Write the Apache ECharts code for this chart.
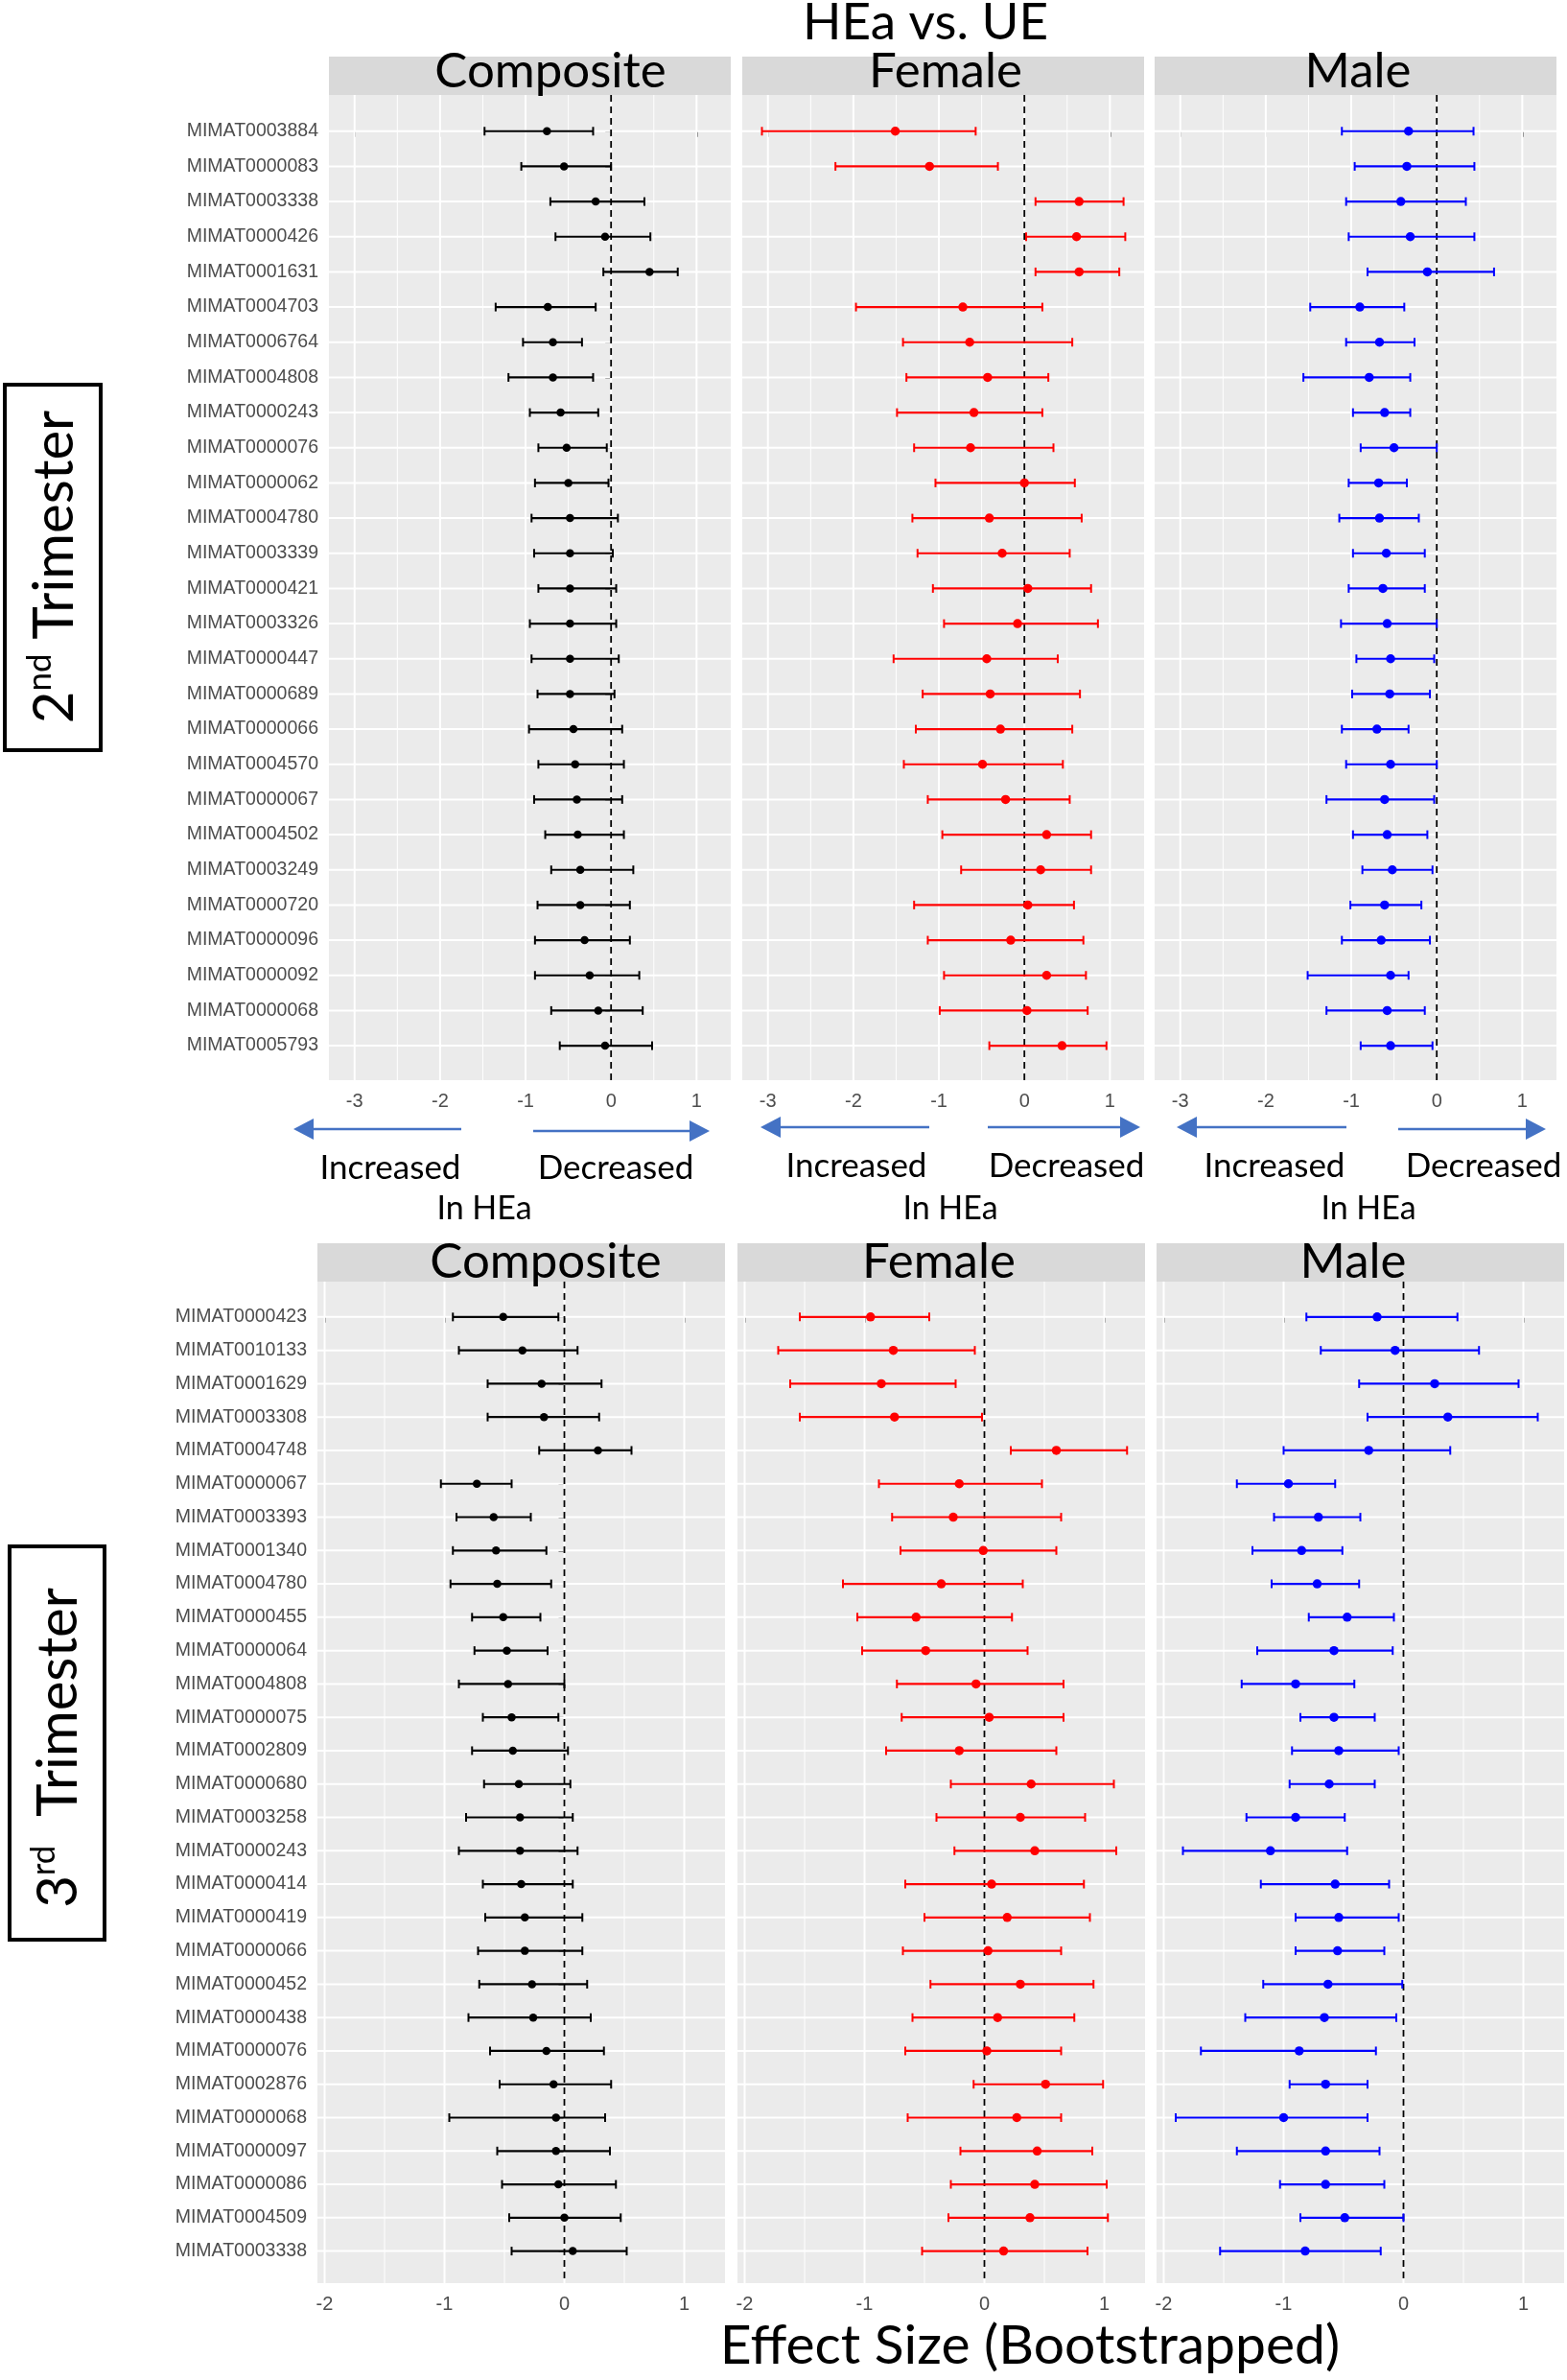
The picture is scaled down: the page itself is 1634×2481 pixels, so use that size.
<!DOCTYPE html>
<html>
<head>
<meta charset="utf-8">
<script src="https://cdn.jsdelivr.net/npm/echarts@6/dist/echarts.min.js"></script>
<style>
  html, body { margin: 0; padding: 0; background: #fff; }
  #main { width: 1634px; height: 2481px; }
</style>
</head>
<body>
<div id="main"></div>
<script>
// ---- 2nd trimester ----
var genes2 = ['MIMAT0003884','MIMAT0000083','MIMAT0003338','MIMAT0000426','MIMAT0001631','MIMAT0004703',
  'MIMAT0006764','MIMAT0004808','MIMAT0000243','MIMAT0000076','MIMAT0000062','MIMAT0004780','MIMAT0003339',
  'MIMAT0000421','MIMAT0003326','MIMAT0000447','MIMAT0000689','MIMAT0000066','MIMAT0004570','MIMAT0000067',
  'MIMAT0004502','MIMAT0003249','MIMAT0000720','MIMAT0000096','MIMAT0000092','MIMAT0000068','MIMAT0005793'];

var comp2Est = [-0.75,-0.55,-0.18,-0.07,0.45,-0.74,-0.68,-0.68,-0.59,-0.52,-0.50,-0.48,-0.48,-0.48,-0.48,-0.48,-0.48,-0.44,-0.42,-0.40,-0.39,-0.36,-0.36,-0.31,-0.25,-0.15,-0.07];
var comp2Lo  = [-1.48,-1.05,-0.71,-0.65,-0.09,-1.35,-1.03,-1.20,-0.95,-0.85,-0.89,-0.93,-0.90,-0.85,-0.95,-0.93,-0.86,-0.96,-0.85,-0.90,-0.77,-0.70,-0.86,-0.89,-0.89,-0.70,-0.60];
var comp2Hi  = [-0.21,0.00,0.39,0.46,0.78,-0.18,-0.34,-0.21,-0.15,-0.05,-0.03,0.08,0.02,0.06,0.06,0.09,0.04,0.13,0.15,0.13,0.15,0.26,0.22,0.22,0.33,0.37,0.48];

var fem2Est = [-1.51,-1.11,0.64,0.61,0.64,-0.72,-0.64,-0.43,-0.59,-0.63,0.00,-0.41,-0.26,0.04,-0.08,-0.44,-0.40,-0.28,-0.49,-0.22,0.26,0.19,0.04,-0.16,0.26,0.03,0.44];
var fem2Lo  = [-3.07,-2.21,0.13,0.02,0.13,-1.97,-1.42,-1.38,-1.49,-1.29,-1.04,-1.31,-1.25,-1.07,-0.94,-1.53,-1.19,-1.27,-1.41,-1.13,-0.96,-0.74,-1.29,-1.13,-0.94,-0.99,-0.41];
var fem2Hi  = [-0.57,-0.31,1.16,1.18,1.11,0.21,0.56,0.28,0.21,0.34,0.59,0.67,0.53,0.78,0.86,0.39,0.65,0.56,0.45,0.53,0.78,0.78,0.58,0.69,0.72,0.74,0.96];

var male2Est = [-0.33,-0.35,-0.42,-0.31,-0.11,-0.90,-0.67,-0.79,-0.61,-0.50,-0.68,-0.67,-0.59,-0.63,-0.58,-0.54,-0.55,-0.70,-0.54,-0.61,-0.58,-0.52,-0.61,-0.65,-0.54,-0.58,-0.54];
var male2Lo  = [-1.11,-0.96,-1.06,-1.03,-0.81,-1.48,-1.06,-1.56,-0.98,-0.89,-1.03,-1.14,-0.98,-1.03,-1.12,-0.94,-0.99,-1.11,-1.06,-1.29,-0.98,-0.87,-1.01,-1.11,-1.51,-1.29,-0.89];
var male2Hi  = [0.43,0.44,0.34,0.44,0.67,-0.38,-0.26,-0.31,-0.31,0.00,-0.35,-0.21,-0.14,-0.14,0.00,-0.03,-0.08,-0.33,0.00,-0.03,-0.11,-0.05,-0.18,-0.08,-0.33,-0.14,-0.05];

// ---- 3rd trimester ----
var genes3 = ['MIMAT0000423','MIMAT0010133','MIMAT0001629','MIMAT0003308','MIMAT0004748','MIMAT0000067',
  'MIMAT0003393','MIMAT0001340','MIMAT0004780','MIMAT0000455','MIMAT0000064','MIMAT0004808','MIMAT0000075',
  'MIMAT0002809','MIMAT0000680','MIMAT0003258','MIMAT0000243','MIMAT0000414','MIMAT0000419','MIMAT0000066',
  'MIMAT0000452','MIMAT0000438','MIMAT0000076','MIMAT0002876','MIMAT0000068','MIMAT0000097','MIMAT0000086',
  'MIMAT0004509','MIMAT0003338'];

var comp3Est = [-0.51,-0.35,-0.19,-0.17,0.28,-0.73,-0.59,-0.57,-0.56,-0.51,-0.48,-0.47,-0.44,-0.43,-0.38,-0.37,-0.37,-0.36,-0.33,-0.33,-0.27,-0.26,-0.15,-0.09,-0.07,-0.07,-0.05,0.00,0.07];
var comp3Lo  = [-0.93,-0.88,-0.64,-0.64,-0.21,-1.03,-0.90,-0.93,-0.95,-0.77,-0.75,-0.88,-0.68,-0.77,-0.67,-0.82,-0.88,-0.68,-0.66,-0.72,-0.71,-0.80,-0.62,-0.54,-0.96,-0.56,-0.52,-0.46,-0.44];
var comp3Hi  = [-0.05,0.11,0.31,0.29,0.56,-0.44,-0.28,-0.15,-0.11,-0.20,-0.14,0.00,-0.05,0.03,0.05,0.07,0.11,0.07,0.15,0.15,0.19,0.22,0.33,0.39,0.34,0.38,0.43,0.47,0.52];

var fem3Est = [-0.95,-0.76,-0.86,-0.75,0.60,-0.21,-0.26,-0.01,-0.36,-0.57,-0.49,-0.07,0.04,-0.21,0.39,0.30,0.42,0.06,0.19,0.03,0.30,0.11,0.02,0.51,0.27,0.44,0.42,0.38,0.16];
var fem3Lo  = [-1.54,-1.72,-1.62,-1.54,0.22,-0.88,-0.77,-0.70,-1.18,-1.06,-1.02,-0.73,-0.69,-0.82,-0.28,-0.40,-0.25,-0.66,-0.50,-0.68,-0.45,-0.60,-0.66,-0.09,-0.64,-0.20,-0.28,-0.30,-0.52];
var fem3Hi  = [-0.46,-0.08,-0.24,-0.02,1.19,0.48,0.64,0.60,0.32,0.23,0.36,0.66,0.66,0.60,1.08,0.84,1.10,0.83,0.88,0.64,0.91,0.75,0.64,0.99,0.64,0.90,1.02,1.03,0.86];

var male3Est = [-0.22,-0.07,0.26,0.37,-0.29,-0.96,-0.71,-0.85,-0.72,-0.47,-0.58,-0.90,-0.58,-0.54,-0.62,-0.90,-1.11,-0.57,-0.54,-0.55,-0.63,-0.66,-0.87,-0.65,-1.00,-0.65,-0.65,-0.49,-0.82];
var male3Lo  = [-0.81,-0.69,-0.37,-0.30,-1.00,-1.39,-1.08,-1.26,-1.10,-0.79,-1.22,-1.35,-0.86,-0.93,-0.95,-1.31,-1.84,-1.19,-0.90,-0.90,-1.17,-1.32,-1.69,-0.95,-1.90,-1.39,-1.03,-0.86,-1.53];
var male3Hi  = [0.45,0.63,0.96,1.12,0.39,-0.57,-0.36,-0.51,-0.37,-0.08,-0.09,-0.41,-0.24,-0.04,-0.24,-0.49,-0.47,-0.12,-0.04,-0.16,-0.01,-0.06,-0.23,-0.30,-0.30,-0.20,-0.16,0.00,-0.19];

// axis breaks
var ticks2 = [-3, -2, -1, 0, 1];
var minor2 = [-2.5, -1.5, -0.5, 0.5];
var ticks3 = [-2, -1, 0, 1];
var minor3 = [-1.5, -0.5, 0.5];
var panelNames = ['Composite', 'Female', 'Male'];
var refLine = 0;

var colors = ['#000000', '#FF0000', '#0000FF'];
var labelFont = 'Liberation Sans, Arial, sans-serif';
var bigFont = 'Lato, Open Sans, sans-serif';

var blocks = [
  { genes: genes2, est: [comp2Est, fem2Est, male2Est], lo: [comp2Lo, fem2Lo, male2Lo], hi: [comp2Hi, fem2Hi, male2Hi],
    ticks: ticks2, minor: minor2, lefts: [343, 774, 1204], width: 419, top: 99, height: 1027,
    xmin: -3.3, xmax: 1.4, padTop: 1.03, padBottom: 0.98, stripTop: 59, labelX: [574, 986, 1416], labelY: 75 },
  { genes: genes3, est: [comp3Est, fem3Est, male3Est], lo: [comp3Lo, fem3Lo, male3Lo], hi: [comp3Hi, fem3Hi, male3Hi],
    ticks: ticks3, minor: minor3, lefts: [331, 769, 1206], width: 425, top: 1336, height: 1044,
    xmin: -2.06, xmax: 1.34, padTop: 1.06, padBottom: 0.96, stripTop: 1296, labelX: [569, 979, 1411], labelY: 1316 }
];

var grids = [], xAxes = [], yAxes = [], series = [], elements = [];

function vLine(params, api) {
  var cs = params.coordSys;
  var p = api.coord([api.value(0), 0]);
  var w = api.value(1);
  return { type: 'line', shape: { x1: p[0], y1: cs.y, x2: p[0], y2: cs.y + cs.height },
           style: { stroke: '#FFFFFF', lineWidth: w } };
}
function hLine(params, api) {
  var cs = params.coordSys;
  var p = api.coord([0, api.value(1)]);
  return { type: 'line', shape: { x1: cs.x, y1: p[1], x2: cs.x + cs.width, y2: p[1] },
           style: { stroke: '#FFFFFF', lineWidth: 2 } };
}
function zeroLine(params, api) {
  var cs = params.coordSys;
  var p = api.coord([api.value(0), 0]);
  return { type: 'line', shape: { x1: p[0], y1: cs.y, x2: p[0], y2: cs.y + cs.height },
           style: { stroke: '#000000', lineWidth: 1.8, lineDash: [7, 5] } };
}
function barRenderer(color) {
  return function (params, api) {
    var y = api.value(2);
    var a = api.coord([api.value(0), y]);
    var b = api.coord([api.value(1), y]);
    var h = 4.5;
    return { type: 'group', children: [
      { type: 'line', shape: { x1: a[0], y1: a[1], x2: b[0], y2: b[1] }, style: { stroke: color, lineWidth: 2.2 } },
      { type: 'line', shape: { x1: a[0], y1: a[1] - h, x2: a[0], y2: a[1] + h }, style: { stroke: color, lineWidth: 2 } },
      { type: 'line', shape: { x1: b[0], y1: b[1] - h, x2: b[0], y2: b[1] + h }, style: { stroke: color, lineWidth: 2 } }
    ] };
  };
}

blocks.forEach(function (blk) {
  var n = blk.genes.length;
  var rows = blk.genes.map(function (g, i) { return i; });
  for (var p = 0; p < 3; p++) {
    var idx = grids.length;
    grids.push({ left: blk.lefts[p], top: blk.top, width: blk.width, height: blk.height,
      show: true, backgroundColor: '#EBEBEB', borderWidth: 0, containLabel: false, outerBoundsMode: 'none' });
    xAxes.push({ type: 'value', gridIndex: idx, min: blk.xmin, max: blk.xmax,
      axisLine: { show: false }, splitLine: { show: false },
      axisTick: { show: true, length: 6, customValues: blk.ticks, lineStyle: { color: '#333333', width: 1.5 } },
      axisLabel: { show: true, customValues: blk.ticks, margin: 12, color: '#4D4D4D', fontSize: 20, fontFamily: labelFont,
        formatter: function (v) { return Math.abs(v - Math.round(v)) < 1e-6 ? String(Math.round(v)) : ''; } } });
    var genes = blk.genes;
    yAxes.push({ type: 'value', gridIndex: idx, inverse: true, min: -blk.padTop, max: n - 1 + blk.padBottom,
      axisLine: { show: false }, splitLine: { show: false },
      axisTick: { show: p === 0, length: 6, customValues: rows, lineStyle: { color: '#333333', width: 1.5 } },
      axisLabel: { show: p === 0, customValues: rows, margin: 11, color: '#4D4D4D', fontSize: 19.5, fontFamily: labelFont,
        formatter: (function (names) { return function (v) { return names[v] !== undefined ? names[v] : ''; }; })(genes) } });

    var vdata = blk.ticks.map(function (t) { return [t, 2]; }).concat(blk.minor.map(function (t) { return [t, 1]; }));
    series.push({ type: 'custom', xAxisIndex: idx, yAxisIndex: idx, z: 1, silent: true,
      renderItem: vLine, data: vdata, encode: { x: 0 } });
    series.push({ type: 'custom', xAxisIndex: idx, yAxisIndex: idx, z: 1, silent: true,
      renderItem: hLine, data: rows.map(function (r) { return [0, r]; }), encode: { x: 0, y: 1 } });
    series.push({ type: 'custom', xAxisIndex: idx, yAxisIndex: idx, z: 2, silent: true,
      renderItem: zeroLine, data: [[refLine, 0]], encode: { x: 0, y: 1 } });

    var est = blk.est[p], lo = blk.lo[p], hi = blk.hi[p];
    series.push({ type: 'custom', xAxisIndex: idx, yAxisIndex: idx, z: 3, silent: true,
      renderItem: barRenderer(colors[p]),
      data: rows.map(function (r) { return [lo[r], hi[r], r]; }), encode: { x: [0, 1], y: 2 } });
    series.push({ type: 'scatter', xAxisIndex: idx, yAxisIndex: idx, z: 4, silent: true,
      symbol: 'circle', symbolSize: p === 0 ? 8.5 : 9.5, itemStyle: { color: colors[p], opacity: 1 },
      data: rows.map(function (r) { return [est[r], r]; }) });

    // facet strip
    elements.push({ type: 'rect', silent: true, shape: { x: blk.lefts[p], y: blk.stripTop, width: blk.width, height: blk.top - blk.stripTop },
      style: { fill: '#D9D9D9' } });
    elements.push({ type: 'text', silent: true, x: blk.labelX[p], y: blk.labelY,
      style: { text: panelNames[p], fontSize: 51, fontFamily: bigFont, fill: '#000', align: 'center', verticalAlign: 'middle' } });
  }
});

// direction arrows under the 2nd-trimester panels
var blue = '#4472C4';
function arrow(tail, tip, y) {
  var dir = tip > tail ? 1 : -1;
  var base = tip - dir * 21;
  elements.push({ type: 'line', silent: true, shape: { x1: tail, y1: y, x2: base, y2: y }, style: { stroke: blue, lineWidth: 2.5 } });
  elements.push({ type: 'polygon', silent: true, shape: { points: [[tip, y], [base, y - 11], [base, y + 11]] }, style: { fill: blue } });
}
arrow(481, 306, 1177); arrow(556, 740, 1179);
arrow(969, 793, 1175); arrow(1030, 1189, 1175);
arrow(1404, 1227, 1175); arrow(1458, 1612, 1177);

function label(text, x, y, size) {
  elements.push({ type: 'text', silent: true, x: x, y: y,
    style: { text: text, fontSize: size, fontFamily: bigFont, fill: '#000', align: 'center', verticalAlign: 'middle' } });
}
label('Increased', 407, 1218, 35); label('Decreased', 642, 1218, 35);
label('Increased', 893, 1216, 35); label('Decreased', 1112, 1216, 35);
label('Increased', 1329, 1216, 35); label('Decreased', 1547, 1216, 35);
label('In HEa', 505, 1260, 34); label('In HEa', 991, 1260, 34); label('In HEa', 1427, 1260, 34);

label('HEa vs. UE', 965, 24, 53);
label('Effect Size (Bootstrapped)', 1074, 2446, 57);

// trimester boxes
elements.push({ type: 'rect', silent: true, shape: { x: 5, y: 401, width: 100, height: 381 },
  style: { fill: 'none', stroke: '#000', lineWidth: 4 } });
elements.push({ type: 'rect', silent: true, shape: { x: 10, y: 1612, width: 99, height: 410 },
  style: { fill: 'none', stroke: '#000', lineWidth: 4 } });
function trimester(num, sup, gap, x, y) {
  elements.push({ type: 'text', silent: true, x: x, y: y, rotation: Math.PI / 2,
    style: { text: '{n|' + num + '}{s|' + sup + '}{n|' + gap + 'Trimester}', align: 'center', verticalAlign: 'middle',
      rich: { n: { fontSize: 58, fontFamily: bigFont, fill: '#000', lineHeight: 66 },
              s: { fontSize: 35, fontFamily: bigFont, fill: '#000', lineHeight: 66, verticalAlign: 'top', padding: [0, 0, 22, 0] } } } });
}
trimester('2', 'nd', ' ', 57, 591);
trimester('3', 'rd', '  ', 61, 1822);

var chart = echarts.init(document.getElementById('main'));
chart.setOption({
  backgroundColor: '#FFFFFF',
  animation: false,
  grid: grids,
  xAxis: xAxes,
  yAxis: yAxes,
  series: series,
  graphic: { elements: elements }
});
</script>
</body>
</html>
